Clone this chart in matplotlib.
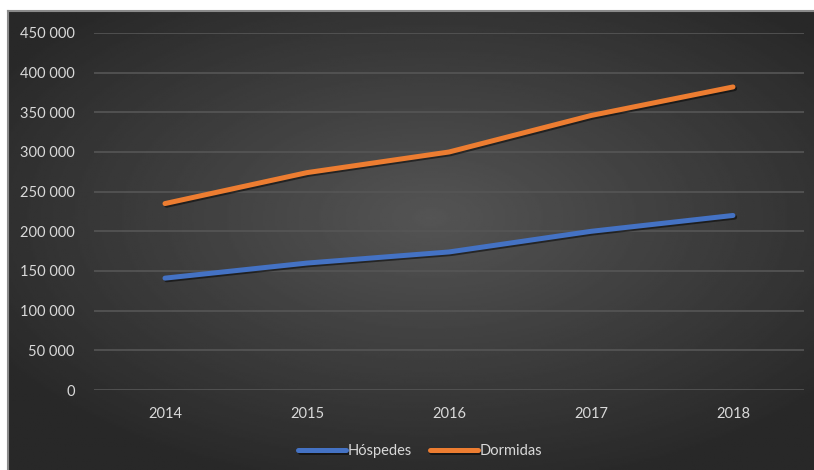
import numpy as np
import matplotlib
matplotlib.use("Agg")
import matplotlib.pyplot as plt
import matplotlib.patheffects as pe

years = ["2014", "2015", "2016", "2017", "2018"]
hospedes = [141000, 160000, 174000, 200000, 220000]
dormidas = [235000, 274000, 300000, 346000, 382000]

plt.rcParams['font.family'] = ['Lato', 'DejaVu Sans']

W, H = 814, 470
fig = plt.figure(figsize=(W / 100, H / 100), dpi=100)
fig.patch.set_facecolor("white")

# dark radial gradient background (Excel style)
bg = fig.add_axes([8 / W, 0, (W - 8) / W, (H - 11) / H])
gx, gy = np.meshgrid(np.linspace(-1, 1, 400), np.linspace(-1, 1, 240))
r = np.sqrt(((gx - 0.05) * 0.95) ** 2 + ((gy + 0.1) * 1.0) ** 2)
shade = 0.33 - 0.17 * np.clip(r / 1.2, 0, 1)
bg.imshow(shade, cmap="gray", vmin=0, vmax=1, aspect="auto", extent=[0, 1, 0, 1])
bg.set_xticks([])
bg.set_yticks([])
for s in bg.spines.values():
    s.set_visible(False)
bg.plot([0, 1], [1, 1], color="#8a8a8a", lw=1.5, transform=bg.transAxes, clip_on=False)
bg.plot([0, 0], [0, 1], color="#8a8a8a", lw=1.5, transform=bg.transAxes, clip_on=False)

ax = fig.add_axes([94 / W, 1 - 390 / H, (804 - 94) / W, (390 - 33) / H])
ax.patch.set_alpha(0)
x = np.arange(len(years))
ax.set_xlim(-0.5, len(years) - 0.5)
ax.set_ylim(0, 450000)
ax.set_yticks(np.arange(0, 450001, 50000))
ax.set_yticklabels([f"{v:,}".replace(",", " ") for v in range(0, 450001, 50000)])
ax.set_xticks(x)
ax.set_xticklabels(years)
ax.grid(axis="y", color="#565656", lw=1.2)
ax.set_axisbelow(True)
ax.tick_params(length=0, colors="#d9d9d9", labelsize=10.5)
ax.tick_params(axis="y", pad=14)
ax.tick_params(axis="x", pad=12)
for s in ax.spines.values():
    s.set_visible(False)

shadow = [pe.SimpleLineShadow(offset=(1.2, -1.2), shadow_color="black", alpha=0.5), pe.Normal()]
ax.plot(x, hospedes, color="#4472C4", lw=3.6, solid_capstyle="round",
        label="Hóspedes", path_effects=shadow)
ax.plot(x, dormidas, color="#ED7D31", lw=3.6, solid_capstyle="round",
        label="Dormidas", path_effects=shadow)

leg = fig.legend(loc="center", bbox_to_anchor=(420 / W, 1 - 451 / H), ncol=2,
                 frameon=False, handlelength=3.3, handletextpad=0.1,
                 columnspacing=1.2, fontsize=10.5)
for t in leg.get_texts():
    t.set_color("#d9d9d9")

fig.savefig("out.png", dpi=100)
